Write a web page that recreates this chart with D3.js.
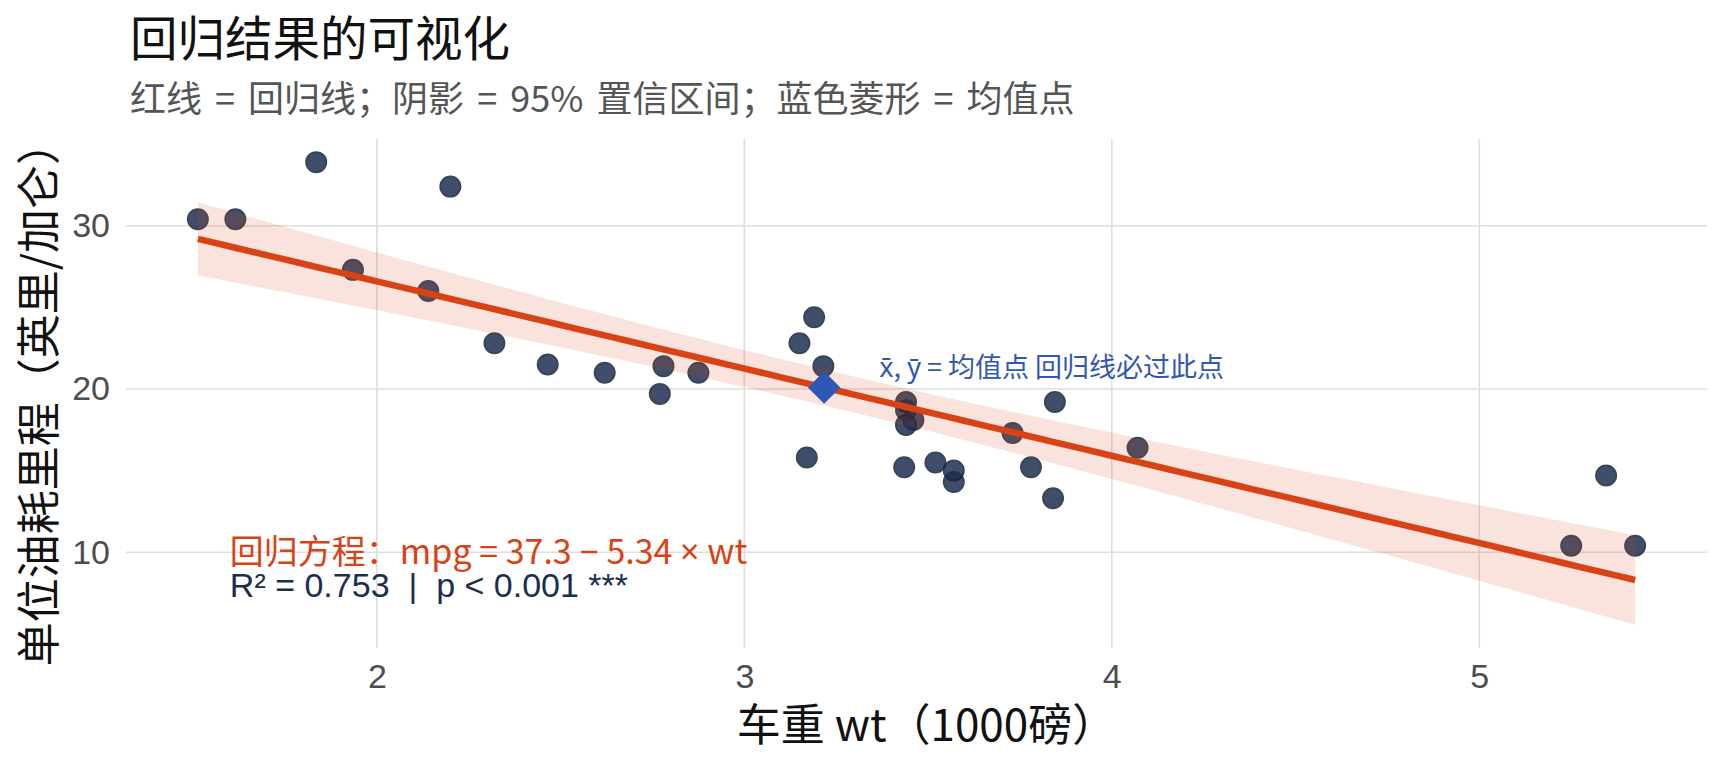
<!DOCTYPE html>
<html lang="zh">
<head>
<meta charset="utf-8">
<title>回归结果的可视化</title>
<script src="https://d3js.org/d3.v7.min.js"></script>
<style>
body { margin: 0; background: #fff; }
.grid line { stroke: #dedede; stroke-width: 1.6px; }
.tick-label { font-family: "Liberation Sans", Arial, sans-serif; font-size: 34px; fill: #4d4d4d; }
.cjk { font-family: "Noto Sans CJK SC", "Noto Sans", sans-serif; }
.pre { white-space: pre; }
</style>
</head>
<body>
<svg width="1728" height="768"></svg>
<script>

// mtcars: wt (1000 lbs) and mpg
var wt  = [2.620, 2.875, 2.320, 3.215, 3.440, 3.460, 3.570, 3.190, 3.150, 3.440, 3.440,
           4.070, 3.730, 3.780, 5.250, 5.424, 5.345, 2.200, 1.615, 1.835, 2.465, 3.520,
           3.435, 3.840, 3.845, 1.935, 2.140, 1.513, 3.170, 2.770, 3.570, 2.780];
var mpg = [21.0, 21.0, 22.8, 21.4, 18.7, 18.1, 14.3, 24.4, 22.8, 19.2, 17.8,
           16.4, 17.3, 15.2, 10.4, 10.4, 14.7, 32.4, 30.4, 33.9, 21.5, 15.5,
           15.2, 13.3, 19.2, 27.3, 26.0, 30.4, 15.8, 19.7, 15.0, 21.4];

var xTicks = [2, 3, 4, 5];
var yTicks = [10, 20, 30];

var titleText = "回归结果的可视化";
var subtitleText = "红线 = 回归线；阴影 = 95% 置信区间；蓝色菱形 = 均值点";
var xTitle = "车重 wt（1000磅）";
var yTitle = "单位油耗里程（英里/加仑）";
var eqParts = ["回归方程：mpg = 37.3 ", "−", " 5.34 ", "×", " wt"];
var statText = "R² = 0.753  |  p < 0.001 ***";

var svg = d3.select("svg");
var margin = {top: 139, right: 21, bottom: 120, left: 126};
var width = +svg.attr("width") - margin.left - margin.right;
var height = +svg.attr("height") - margin.top - margin.bottom;

var data = wt.map((w, i) => ({wt: w, mpg: mpg[i]}));

// least squares fit, like lm(mpg ~ wt)
var n = data.length;
var mx = d3.mean(wt), my = d3.mean(mpg);
var sxx = d3.sum(wt, w => (w - mx) * (w - mx));
var sxy = d3.sum(data, d => (d.wt - mx) * (d.mpg - my));
var slope = sxy / sxx;
var intercept = my - slope * mx;
var rss = d3.sum(data, d => Math.pow(d.mpg - (intercept + slope * d.wt), 2));
var sigma = Math.sqrt(rss / (n - 2));
var tCrit = 2.042272; // qt(0.975, 30)

var xExt = d3.extent(wt);
var band = d3.range(80).map(function(i) {
  var x = xExt[0] + i * (xExt[1] - xExt[0]) / 79;
  var fit = intercept + slope * x;
  var se = sigma * Math.sqrt(1 / n + (x - mx) * (x - mx) / sxx);
  return {x: x, fit: fit, lo: fit - tCrit * se, hi: fit + tCrit * se};
});

function expand(ext) {
  var pad = (ext[1] - ext[0]) * 0.05;
  return [ext[0] - pad, ext[1] + pad];
}

var yExt = [Math.min(d3.min(mpg), d3.min(band, d => d.lo)),
            Math.max(d3.max(mpg), d3.max(band, d => d.hi))];

var xScale = d3.scaleLinear().domain(expand(xExt)).range([0, width]);
var yScale = d3.scaleLinear().domain(expand(yExt)).range([height, 0]);

var g = svg.append("g").attr("transform", `translate(${margin.left}, ${margin.top})`);

// grid
var grid = g.append("g").attr("class", "grid");
grid.selectAll(".gx").data(xTicks).enter().append("line")
    .attr("x1", d => xScale(d)).attr("x2", d => xScale(d))
    .attr("y1", 0).attr("y2", height);
grid.selectAll(".gy").data(yTicks).enter().append("line")
    .attr("x1", 0).attr("x2", width)
    .attr("y1", d => yScale(d)).attr("y2", d => yScale(d));

// axes (labels only)
var xAxis = g.append("g")
    .attr("transform", `translate(0, ${height})`)
    .call(d3.axisBottom(xScale).tickValues(xTicks).tickFormat(d3.format("d")).tickSize(0).tickPadding(40));
xAxis.select(".domain").remove();
xAxis.selectAll("text").attr("class", "tick-label").attr("font-size", null).attr("font-family", null)
    .attr("dy", null);

var yAxis = g.append("g")
    .call(d3.axisLeft(yScale).tickValues(yTicks).tickFormat(d3.format("d")).tickSize(0).tickPadding(16));
yAxis.select(".domain").remove();
yAxis.selectAll("text").attr("class", "tick-label").attr("font-size", null).attr("font-family", null);
svg.selectAll(".tick text").attr("fill", null);

// points
g.append("g").selectAll("circle")
    .data(data)
  .enter().append("circle")
    .attr("cx", d => xScale(d.wt))
    .attr("cy", d => yScale(d.mpg))
    .attr("r", 10)
    .attr("fill", "#1b2e4f")
    .attr("stroke", "#142339")
    .attr("stroke-width", 2)
    .attr("opacity", 0.84);

// confidence band and fitted line
var area = d3.area()
    .x(d => xScale(d.x))
    .y0(d => yScale(d.lo))
    .y1(d => yScale(d.hi));

g.append("path")
    .datum(band)
    .attr("fill", "#d84315")
    .attr("fill-opacity", 0.15)
    .attr("d", area);

var line = d3.line()
    .x(d => xScale(d.x))
    .y(d => yScale(d.fit));

g.append("path")
    .datum(band)
    .attr("fill", "none")
    .attr("stroke", "#d84315")
    .attr("stroke-width", 6.5)
    .attr("d", line);

// mean point
g.append("path")
    .attr("d", d3.symbol(d3.symbolSquare, 480)())
    .attr("transform", `translate(${xScale(mx)}, ${yScale(my)}) rotate(45)`)
    .attr("fill", "#2f58b6")
    .attr("stroke", "#2f58b6")
    .attr("stroke-width", 1);

var meanLabel = g.append("text")
    .attr("class", "cjk")
    .attr("x", xScale(mx + 0.15))
    .attr("y", yScale(my + 1.2))
    .attr("dy", "0.35em")
    .attr("font-size", 27)
    .attr("fill", "#3157b5");
meanLabel.append("tspan").attr("font-family", "Noto Sans").text("x\u0304");
meanLabel.append("tspan").text(", ");
meanLabel.append("tspan").attr("font-family", "Noto Sans").text("y\u0304");
meanLabel.append("tspan").text(" = 均值点 回归线必过此点");

// equation and stats
var eq = g.append("text")
    .attr("class", "cjk pre")
    .attr("x", xScale(1.6))
    .attr("y", yScale(10))
    .attr("dy", "0.36em")
    .attr("font-size", 34)
    .attr("fill", "#d84315");
eq.selectAll("tspan").data(eqParts).enter().append("tspan")
    .attr("font-family", (d, i) => i % 2 ? "Noto Sans" : null)
    .text(d => d);

g.append("text")
    .attr("class", "pre")
    .attr("x", xScale(1.6))
    .attr("y", yScale(8))
    .attr("dy", "0.36em")
    .attr("font-family", "Liberation Sans, Arial, sans-serif")
    .attr("font-size", 34)
    .attr("fill", "#1b2e4f")
    .text(statText);

// titles
svg.append("text")
    .attr("class", "cjk")
    .attr("x", 130).attr("y", 56)
    .attr("font-size", 47.5)
    .attr("fill", "#111")
    .text(titleText);

svg.append("text")
    .attr("class", "cjk")
    .attr("x", 130).attr("y", 112)
    .attr("font-size", 36)
    .attr("word-spacing", 5)
    .attr("fill", "#555")
    .text(subtitleText);

svg.append("text")
    .attr("class", "cjk")
    .attr("x", margin.left + width / 2 + 10).attr("y", 741)
    .attr("text-anchor", "middle")
    .attr("font-size", 44)
    .attr("fill", "#111")
    .text(xTitle);

svg.append("text")
    .attr("class", "cjk")
    .attr("transform", `translate(55, ${margin.top + height / 2}) rotate(-90)`)
    .attr("text-anchor", "middle")
    .attr("font-size", 44)
    .attr("fill", "#111")
    .text(yTitle);

</script>
</body>
</html>
